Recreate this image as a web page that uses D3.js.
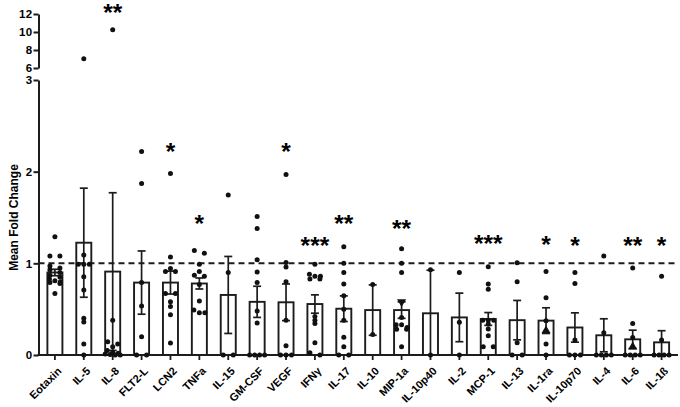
<!DOCTYPE html>
<html>
<head>
<meta charset="utf-8">
<script src="https://cdn.jsdelivr.net/npm/d3@7"></script>
<style>
  html, body { margin: 0; padding: 0; background: #fff; }
  svg { display: block; font-family: "Liberation Sans", Arial, sans-serif; }
</style>
</head>
<body>
<svg id="chart" width="680" height="407"></svg>
<script>
// ---------------- data ----------------
const categories = ["Eotaxin","IL-5","IL-8","FLT2-L","LCN2","TNFa","IL-15","GM-CSF","VEGF","IFNγ","IL-17","IL-10","MIP-1a","IL-10p40","IL-2","MCP-1","IL-13","IL-1ra","IL-10p70","IL-4","IL-6","IL-1ß"];
const means = [0.90,1.225,0.91,0.79,0.79,0.78,0.655,0.58,0.575,0.556,0.505,0.49,0.49,0.455,0.41,0.393,0.38,0.375,0.30,0.215,0.171,0.138];
const sems  = [0.035,0.595,0.86,0.345,0.125,0.06,0.42,0.17,0.2,0.1,0.14,0.275,0.09,0.47,0.265,0.07,0.215,0.14,0.16,0.18,0.1,0.127];
const points = [
  [1.29,1.08,1.08,0.97,0.95,0.93,0.90,0.87,0.85,0.83,0.81,0.80,0.79,0.78,0.67],
  [7.03,1.09,0.99,0.99,0.99,0.855,0.71,0.40,0.36,0.12,0],
  [10.26,0.38,0.145,0.12,0.09,0.05,0.03,0.02,0.01,0.005,0,0],
  [2.22,1.87,0.79,0.535,0.20,0,0],
  [1.98,1.07,0.945,0.91,0.91,0.67,0.67,0.58,0.53,0.44,0.13],
  [1.14,1.11,0.99,0.91,0.87,0.86,0.77,0.59,0.49,0.46,0.46],
  [1.745,0.90,0,0],
  [1.51,1.38,1.04,0.905,0.79,0.48,0.35,0,0,0,0],
  [1.97,1.01,0.96,0.80,0.38,0.10,0,0,0],
  [0.99,0.88,0.86,0.86,0.83,0.83,0.42,0.38,0.345,0.135,0.025,0],
  [1.18,1.0,0.90,0.774,0.647,0.50,0.38,0.193,0.09,0,0],
  [0.77,0.225],
  [1.16,1.0,0.90,0.41,0.33,0.33,0.30,0.28,0.28,0.09],
  [0.93,0],
  [0.90,0.356,0],
  [0.963,0.774,0.716,0.38,0.38,0.38,0.338,0.283,0.21,0.09,0.09],
  [1.007,0.80,0.135,0,0],
  [0.91,0.625,0.375,0.12,0],
  [0.90,0.78,0.164,0,0,0],
  [1.08,0.244,0,0,0,0],
  [0.95,0.345,0.19,0,0,0,0],
  [0.86,0.164,0,0,0,0]
];
// triangle-shaped points: [category, value, direction]
const trianglePoints = [["MIP-1a",0.58,"down"],["IL-1ra",0.265,"up"],["IL-6",0.09,"up"]];
// significance labels and their level (in data units)
const sigLabels = ["","","**","","*","*","","","*","***","**","","**","","","***","","*","*","","**","*"];
const sigLevels = [0,0,12.7,0,2.28,1.49,0,0,2.27,1.254,1.49,0,1.44,0,0,1.276,0,1.26,1.254,0,1.246,1.246];
const lowTicks = [0,1,2,3];
const highTicks = [6,8,10,12];
const refLine = 1;

// ---------------- layout ----------------
const svg = d3.select("#chart");
const ink = "#1c1c1c";
const FONT = "'Liberation Sans', Arial, sans-serif";
const axisX = 38.5;
const x = d3.scaleBand().domain(categories).range([axisX, 678])
  .paddingInner(0.48).paddingOuter(0.308);
const yLow = d3.scaleLinear().domain([0, 3]).range([355, 80]);
const yHigh = d3.scaleLinear().domain([6, 12]).range([68, 14]);
const yPos = v => v > 4.5 ? yHigh(v) : yLow(v);
const cx = c => x(c) + x.bandwidth() / 2;

// y axes
function styleAxis(g) {
  g.attr("font-family", FONT);
  g.selectAll("path.domain").attr("stroke", ink).attr("stroke-width", 2);
  g.selectAll(".tick line").attr("stroke", ink).attr("stroke-width", 2);
  g.selectAll(".tick text").attr("fill", "#000").attr("font-weight", "bold")
    .attr("font-size", 11.5).attr("font-family", FONT).attr("letter-spacing", 0.4);
}
svg.append("g").attr("transform", `translate(${axisX},0)`)
  .call(d3.axisLeft(yLow).tickValues(lowTicks).tickSize(5).tickSizeOuter(0).tickPadding(1).tickFormat(d3.format("d")))
  .call(styleAxis);
svg.append("g").attr("transform", `translate(${axisX},0)`)
  .call(d3.axisLeft(yHigh).tickValues(highTicks).tickSize(5).tickSizeOuter(0).tickPadding(1).tickFormat(d3.format("d")))
  .call(styleAxis);

// y axis title
svg.append("text")
  .attr("transform", `translate(14,${(yLow(0)+yLow(3))/2}) rotate(-90)`)
  .attr("text-anchor", "middle").attr("dy", "0.35em")
  .attr("font-weight", "bold").attr("font-size", 12).attr("fill", "#000")
  .text("Mean Fold Change");

// bars
const rows = categories.map((c, i) => ({c, mean: means[i], sem: sems[i], pts: points[i], sig: sigLabels[i], lvl: sigLevels[i]}));
svg.append("g").selectAll("rect").data(rows).join("rect")
  .attr("x", d => x(d.c)).attr("width", x.bandwidth())
  .attr("y", d => yLow(d.mean)).attr("height", d => yLow(0) - yLow(d.mean))
  .attr("fill", "#fff").attr("stroke", ink).attr("stroke-width", 1.9);

// error bars
const eb = svg.append("g").attr("stroke", ink).attr("stroke-width", 1.7).attr("fill", "none");
rows.forEach(d => {
  const lo = Math.max(0, d.mean - d.sem), hi = d.mean + d.sem;
  const c = cx(d.c);
  eb.append("line").attr("x1", c).attr("x2", c).attr("y1", yLow(lo)).attr("y2", yLow(hi));
  eb.append("line").attr("x1", c - 4).attr("x2", c + 4).attr("y1", yLow(hi)).attr("y2", yLow(hi));
  if (d.mean - d.sem > 0.02)
    eb.append("line").attr("x1", c - 4).attr("x2", c + 4).attr("y1", yLow(lo)).attr("y2", yLow(lo));
});

// x axis
const xAxisG = svg.append("g").attr("transform", `translate(0,${yLow(0)})`)
  .call(d3.axisBottom(x).tickSize(5).tickSizeOuter(0).tickFormat(""));
xAxisG.selectAll("path.domain").attr("stroke", ink).attr("stroke-width", 2)
  .attr("d", `M${axisX - 1},0H678`);
xAxisG.selectAll(".tick line").attr("stroke", ink).attr("stroke-width", 1.8);
xAxisG.selectAll(".tick text").remove();

// rotated category labels
svg.append("g").selectAll("text").data(categories).join("text")
  .attr("transform", c => `translate(${cx(c) + 4.5},${369}) rotate(-45)`)
  .attr("text-anchor", "end").attr("dy", "0.35em")
  .attr("font-weight", "bold").attr("font-size", 11).attr("fill", "#000")
  .attr("font-family", FONT)
  .text(c => c);

// reference dashed line
svg.append("line").attr("x1", axisX).attr("x2", 678)
  .attr("y1", yLow(refLine)).attr("y2", yLow(refLine))
  .attr("stroke", ink).attr("stroke-width", 2).attr("stroke-dasharray", "6,4");

// scatter points (deterministic row layout)
const dotG = svg.append("g").attr("fill", "#111");
rows.forEach(d => {
  const sorted = d.pts.slice().sort((a, b) => b - a).map(v => ({v, py: yPos(v)}));
  const groups = [];
  sorted.forEach(p => {
    const g = groups[groups.length - 1];
    if (g && Math.abs(p.py - g[0].py) < 3.2 && g.length < 4) g.push(p); else groups.push([p]);
  });
  groups.forEach(g => {
    const n = g.length;
    const sp = n === 2 ? 10 : n === 3 ? 5.5 : 5;
    g.forEach((p, i) => {
      dotG.append("circle").attr("cx", cx(d.c) + (i - (n - 1) / 2) * sp).attr("cy", p.py).attr("r", 2.5);
    });
  });
});
trianglePoints.forEach(([c, v, dir]) => {
  const sym = d3.symbol().type(d3.symbolTriangle).size(36);
  dotG.append("path").attr("d", sym())
    .attr("transform", `translate(${cx(c)},${yLow(v)}) rotate(${dir === "down" ? 180 : 0})`);
});

// significance asterisks
svg.append("g").selectAll("text").data(rows.filter(d => d.sig)).join("text")
  .attr("x", d => cx(d.c)).attr("y", d => yPos(d.lvl) + 13.5)
  .attr("text-anchor", "middle").attr("font-weight", "bold").attr("font-size", 24.5)
  .attr("fill", "#000").attr("font-family", FONT).text(d => d.sig);
</script>
</body>
</html>
